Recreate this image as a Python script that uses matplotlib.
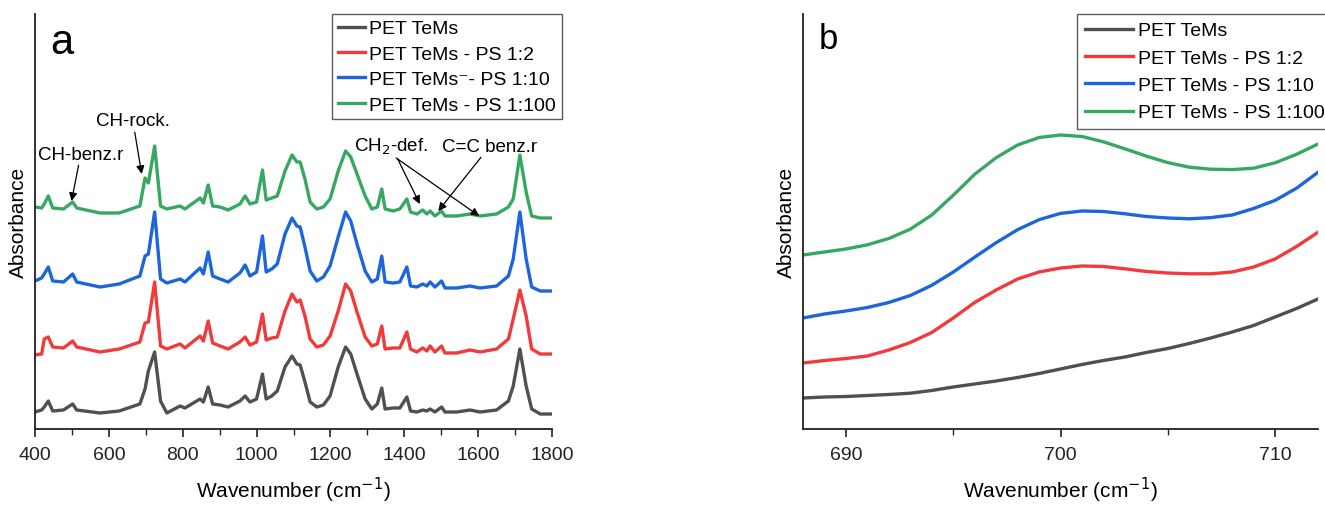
"""FTIR spectra of PET TeMs and PET TeMs - PS composites (panels a and b)."""

import matplotlib

matplotlib.use("Agg")
import matplotlib.pyplot as plt
from matplotlib.ticker import MultipleLocator

plt.rcParams["font.family"] = ["Liberation Sans", "DejaVu Sans"]

# ---- data ---------------------------------------------------------------
labels = [
    "PET TeMs",
    "PET TeMs - PS 1:2",
    "PET TeMs\u207b- PS 1:10",
    "PET TeMs - PS 1:100",
]
labels_b = [
    "PET TeMs",
    "PET TeMs - PS 1:2",
    "PET TeMs - PS 1:10",
    "PET TeMs - PS 1:100",
]
colors = ["#505050", "#F03A3C", "#1C66DA", "#37A862"]

# panel a: full range, curves offset vertically (a.u.)
wavenumber_a = [
    400, 418, 425, 436, 448, 477, 502, 513, 576, 628, 684, 698, 707, 724,
    740, 757, 793, 806, 847, 856, 869, 881, 901, 923, 955, 969, 982, 1000,
    1016, 1026, 1041, 1056, 1077, 1096, 1109, 1118, 1131, 1145, 1163, 1181,
    1199, 1221, 1241, 1255, 1272, 1294, 1312, 1327, 1339, 1348, 1370, 1388,
    1407, 1417, 1434, 1450, 1461, 1470, 1483, 1501, 1510, 1542, 1578, 1605,
    1650, 1682, 1695, 1713, 1730, 1745, 1768, 1800,
]
pet = [
    0.17, 0.19, 0.22, 0.28, 0.18, 0.19, 0.25, 0.19, 0.16, 0.18, 0.25, 0.40,
    0.58, 0.77, 0.28, 0.16, 0.23, 0.21, 0.30, 0.27, 0.42, 0.25, 0.24, 0.22,
    0.28, 0.33, 0.27, 0.30, 0.55, 0.30, 0.33, 0.38, 0.62, 0.73, 0.65, 0.64,
    0.47, 0.27, 0.22, 0.24, 0.33, 0.62, 0.82, 0.75, 0.55, 0.30, 0.20, 0.25,
    0.41, 0.20, 0.21, 0.21, 0.32, 0.18, 0.17, 0.19, 0.18, 0.20, 0.17, 0.22,
    0.17, 0.17, 0.19, 0.17, 0.19, 0.28, 0.43, 0.80, 0.43, 0.20, 0.15, 0.15,
]
pet_ps_2 = [
    0.74, 0.75, 0.90, 0.92, 0.82, 0.81, 0.88, 0.82, 0.77, 0.80, 0.87, 1.06,
    1.07, 1.47, 0.83, 0.80, 0.85, 0.81, 0.93, 0.88, 1.08, 0.86, 0.83, 0.80,
    0.87, 0.92, 0.84, 0.87, 1.15, 0.89, 0.91, 0.92, 1.18, 1.35, 1.27, 1.29,
    1.13, 0.90, 0.82, 0.84, 0.93, 1.18, 1.45, 1.38, 1.17, 0.92, 0.83, 0.85,
    1.03, 0.80, 0.81, 0.81, 0.97, 0.80, 0.77, 0.81, 0.78, 0.83, 0.77, 0.83,
    0.76, 0.76, 0.79, 0.77, 0.80, 0.90, 1.10, 1.39, 1.13, 0.80, 0.75, 0.75,
]
pet_ps_10 = [
    1.48, 1.51, 1.55, 1.62, 1.48, 1.47, 1.55, 1.47, 1.42, 1.45, 1.53, 1.73,
    1.75, 2.17, 1.50, 1.46, 1.50, 1.47, 1.61, 1.55, 1.77, 1.53, 1.50, 1.47,
    1.56, 1.64, 1.53, 1.57, 1.93, 1.57, 1.60, 1.65, 1.95, 2.11, 2.03, 2.02,
    1.82, 1.58, 1.48, 1.52, 1.63, 1.92, 2.17, 2.08, 1.85, 1.58, 1.47, 1.50,
    1.73, 1.47, 1.46, 1.47, 1.62, 1.43, 1.42, 1.45, 1.43, 1.47, 1.42, 1.48,
    1.41, 1.41, 1.43, 1.41, 1.43, 1.53, 1.70, 2.17, 1.70, 1.42, 1.38, 1.38,
]
pet_ps_100 = [
    2.22, 2.21, 2.25, 2.33, 2.21, 2.20, 2.27, 2.21, 2.16, 2.16, 2.23, 2.51,
    2.46, 2.83, 2.23, 2.20, 2.23, 2.20, 2.31, 2.26, 2.44, 2.23, 2.22, 2.19,
    2.25, 2.33, 2.25, 2.27, 2.59, 2.29, 2.31, 2.33, 2.58, 2.74, 2.67, 2.67,
    2.50, 2.27, 2.20, 2.22, 2.30, 2.58, 2.78, 2.72, 2.55, 2.33, 2.20, 2.22,
    2.40, 2.20, 2.18, 2.20, 2.30, 2.17, 2.15, 2.19, 2.15, 2.18, 2.13, 2.18,
    2.13, 2.13, 2.15, 2.13, 2.15, 2.22, 2.30, 2.74, 2.37, 2.13, 2.11, 2.11,
]

# panel b: zoom around 700 cm-1
wavenumber_b = list(range(688, 713))
pet_b = [
    0.31, 0.32, 0.325, 0.335, 0.345, 0.358, 0.385, 0.42, 0.45, 0.48, 0.515,
    0.555, 0.60, 0.645, 0.685, 0.72, 0.765, 0.805, 0.855, 0.91, 0.97, 1.035,
    1.12, 1.205, 1.30,
]
pet_ps_2_b = [
    0.66, 0.685, 0.705, 0.73, 0.79, 0.865, 0.965, 1.11, 1.265, 1.39, 1.50,
    1.57, 1.61, 1.63, 1.625, 1.602, 1.575, 1.56, 1.552, 1.552, 1.57, 1.62,
    1.70, 1.825, 1.967,
]
pet_ps_10_b = [
    1.11, 1.15, 1.18, 1.215, 1.265, 1.335, 1.437, 1.569, 1.718, 1.863, 1.993,
    2.093, 2.156, 2.18, 2.175, 2.152, 2.125, 2.11, 2.102, 2.114, 2.14, 2.205,
    2.286, 2.408, 2.567,
]
pet_ps_100_b = [
    1.74, 1.77, 1.80, 1.842, 1.905, 1.998, 2.14, 2.337, 2.547, 2.713, 2.84,
    2.915, 2.94, 2.925, 2.872, 2.802, 2.729, 2.664, 2.618, 2.598, 2.594,
    2.608, 2.662, 2.747, 2.85,
]

series_a = [pet, pet_ps_2, pet_ps_10, pet_ps_100]
series_b = [pet_b, pet_ps_2_b, pet_ps_10_b, pet_ps_100_b]

# ---- figure ------------------------------------------------------------
W, H = 1325, 506
fig = plt.figure(figsize=(W / 100, H / 100), dpi=100)
ax_a = fig.add_axes([35 / W, 76 / H, 517 / W, 415 / H])
ax_b = fig.add_axes([803 / W, 76 / H, 515 / W, 415 / H])


def style_axis(ax):
    for side in ("top", "right"):
        ax.spines[side].set_visible(False)
    for side in ("left", "bottom"):
        ax.spines[side].set_linewidth(1.3)
        ax.spines[side].set_color("#222222")
    ax.set_yticks([])
    ax.tick_params(axis="x", which="major", direction="out", length=6,
                   width=1.2, labelsize=14, colors="#222222", pad=6)
    ax.tick_params(axis="x", which="minor", direction="out", length=4,
                   width=1.0, colors="#222222")
    ax.set_ylim(0, 4.15)
    ax.set_ylabel("Absorbance", fontsize=15, labelpad=5)
    ax.set_xlabel("Wavenumber (cm$^{\u22121}$)", fontsize=15, labelpad=9)


def add_legend(ax, labs, x_px, handlelength, labelspacing, borderpad):
    leg = ax.legend(labs, loc="upper left",
                    bbox_to_anchor=(x_px / W, 1 - 15 / H),
                    bbox_transform=fig.transFigure,
                    fontsize=14, frameon=True, fancybox=False,
                    handlelength=handlelength, handletextpad=0.22,
                    labelspacing=labelspacing, borderpad=borderpad,
                    borderaxespad=0)
    leg.get_frame().set_edgecolor("#333333")
    leg.get_frame().set_linewidth(1.0)
    return leg


for y, c in zip(series_a, colors):
    ax_a.plot(wavenumber_a, y, color=c, lw=2.4, solid_joinstyle="round")
ax_a.set_xlim(400, 1800)
ax_a.xaxis.set_major_locator(MultipleLocator(200))
ax_a.xaxis.set_minor_locator(MultipleLocator(100))
style_axis(ax_a)
ax_a.text(0.03, 0.98, "a", transform=ax_a.transAxes, fontsize=30, va="top")

arrow = dict(arrowstyle="-|>", color="black", lw=0.9, mutation_scale=12,
             shrinkA=0, shrinkB=0)
ax_a.annotate("CH-benz.r", xy=(499, 2.28), xytext=(524, 2.75), fontsize=13.5,
              ha="center", va="center", arrowprops=arrow)
ax_a.annotate("CH-rock.", xy=(689, 2.55), xytext=(665, 3.08), fontsize=13.5,
              ha="center", va="center", arrowprops=arrow)
ax_a.annotate("CH$_2$-def.", xy=(1442, 2.25), xytext=(1365, 2.83),
              fontsize=13.5, ha="center", va="center", arrowprops=arrow)
ax_a.annotate("", xy=(1603, 2.13), xytext=(1378, 2.71), arrowprops=arrow)
ax_a.annotate("C=C benz.r", xy=(1492, 2.18), xytext=(1632, 2.83),
              fontsize=13.5, ha="center", va="center", arrowprops=arrow)

add_legend(ax_a, labels, 332, 1.4, 0.4, 0.3)

for y, c in zip(series_b, colors):
    ax_b.plot(wavenumber_b, y, color=c, lw=2.4)
ax_b.set_xlim(688, 712)
ax_b.xaxis.set_major_locator(MultipleLocator(10))
ax_b.xaxis.set_minor_locator(MultipleLocator(5))
style_axis(ax_b)
ax_b.text(0.03, 0.98, "b", transform=ax_b.transAxes, fontsize=25, va="top")

add_legend(ax_b, labels_b, 1077, 2.5, 0.5, 0.4)

fig.savefig("out.png", dpi=100, facecolor="white")
plt.close(fig)
